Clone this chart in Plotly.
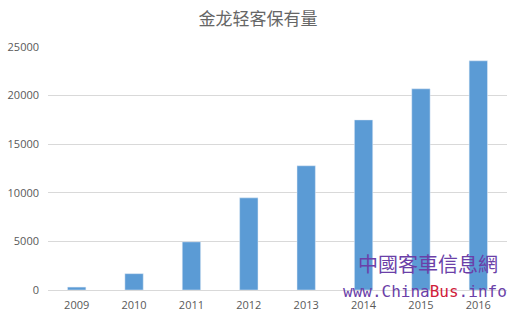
import plotly.graph_objects as go

years = ["2009", "2010", "2011", "2012", "2013", "2014", "2015", "2016"]
values = [300, 1680, 4950, 9480, 12780, 17500, 20700, 23580]
title = "金龙轻客保有量"
y_ticks = [0, 5000, 10000, 15000, 20000, 25000]

fig = go.Figure(go.Bar(x=years, y=values, marker_color="#5b9bd5", width=0.32))

fig.update_layout(
    width=516, height=317,
    margin=dict(l=48, r=9, t=47, b=27),
    paper_bgcolor="white", plot_bgcolor="white",
    title=dict(text=title, x=0.5, xanchor="center", y=0.94, yanchor="middle",
               font=dict(family="Noto Sans CJK SC", size=17, color="#666666")),
    font=dict(family="Open Sans, Liberation Sans", size=11, color="#595959"),
    showlegend=False,
)
fig.update_yaxes(range=[0, 25000], tickvals=y_ticks, ticktext=[str(v) for v in y_ticks],
                 showgrid=True, gridcolor="#d9d9d9", gridwidth=1, zeroline=False,
                 showline=False, ticks="", ticklabelstandoff=8, automargin=False)
fig.update_xaxes(showline=True, linecolor="#d9d9d9", ticks="", showgrid=False,
                 ticklabelstandoff=5, automargin=False)

fig.add_annotation(text="中國客車信息網", xref="paper", yref="paper", x=0.985, y=0.111,
                   xanchor="right", yanchor="middle", showarrow=False,
                   font=dict(family="Noto Sans CJK TC", size=20, color="#6b3fa8"))
fig.add_annotation(text="www.China<span style='color:#d0203a'>Bus</span>.info",
                   xref="paper", yref="paper", x=1.005, y=-0.005,
                   xanchor="right", yanchor="middle", showarrow=False,
                   font=dict(family="DejaVu Sans Mono", size=16, color="#6b3fa8"))

fig.write_html("out.html")
